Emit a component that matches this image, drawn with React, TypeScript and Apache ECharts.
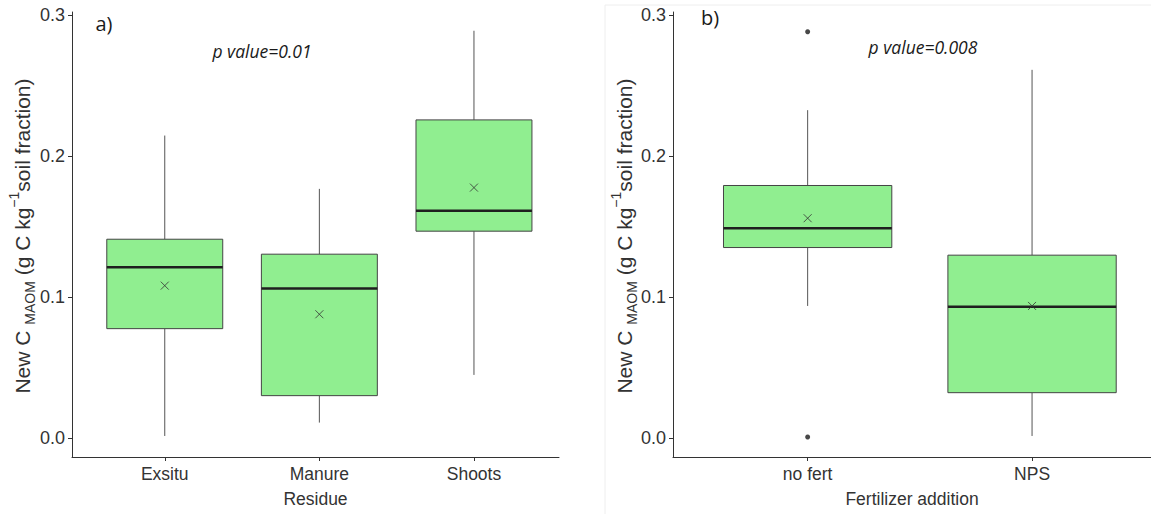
import React, { useEffect, useRef } from "react";
import * as echarts from "echarts";

// ---- Panel a) Residue ----
const leftCats = ["Exsitu", "Manure", "Shoots"];
const leftMin = [0.0014, 0.0109, 0.0447];
const leftQ1 = [0.0775, 0.03, 0.1466];
const leftMed = [0.1211, 0.1059, 0.161];
const leftQ3 = [0.1409, 0.1303, 0.2255];
const leftMax = [0.2144, 0.1766, 0.2887];
const leftMean = [0.108, 0.0877, 0.1775];

// ---- Panel b) Fertilizer addition ----
const rightCats = ["no fert", "NPS"];
const rightMin = [0.0936, 0.0014];
const rightQ1 = [0.135, 0.0321];
const rightMed = [0.1487, 0.0931];
const rightQ3 = [0.179, 0.1296];
const rightMax = [0.2324, 0.261];
const rightMean = [0.1558, 0.0936];
const rightOutlierCat = [1, 1];
const rightOutlierVal = [0.288, 0.0007];

const yTicks = [0, 0.1, 0.2, 0.3];

const FONT = "'Liberation Sans', Arial, sans-serif";
const FONT2 = "'Open Sans', 'Noto Sans', sans-serif";

function boxData(mins: number[], q1: number[], med: number[], q3: number[], max: number[]) {
  return mins.map((_, i) => [i + 1, mins[i], q1[i], med[i], q3[i], max[i]]);
}

function renderBox(params: any, api: any) {
  const x = api.value(0);
  const pMin = api.coord([x, api.value(1)]);
  const pQ1 = api.coord([x, api.value(2)]);
  const pMed = api.coord([x, api.value(3)]);
  const pQ3 = api.coord([x, api.value(4)]);
  const pMax = api.coord([x, api.value(5)]);
  const bw = api.size([1, 0])[0] * 0.75;
  const cx = pMed[0];
  return {
    type: "group",
    children: [
      {
        type: "line",
        shape: { x1: cx, y1: pMin[1], x2: cx, y2: pQ1[1] },
        style: { stroke: "#555", lineWidth: 1 },
      },
      {
        type: "line",
        shape: { x1: cx, y1: pQ3[1], x2: cx, y2: pMax[1] },
        style: { stroke: "#555", lineWidth: 1 },
      },
      {
        type: "rect",
        shape: { x: cx - bw / 2, y: pQ3[1], width: bw, height: pQ1[1] - pQ3[1] },
        style: { fill: "#90EE90", stroke: "#444", lineWidth: 1 },
      },
      {
        type: "line",
        shape: { x1: cx - bw / 2, y1: pMed[1], x2: cx + bw / 2, y2: pMed[1] },
        style: { stroke: "#1f1f1f", lineWidth: 2.5 },
      },
    ],
  };
}

const crossSymbol = "path://M0,0L10,10M10,0L0,10";

function yAxisCfg(gridIndex: number) {
  return {
    type: "value",
    gridIndex,
    min: -0.0135,
    max: 0.302,
    axisLine: { show: true, onZero: false, lineStyle: { color: "#333", width: 1 } },
    axisTick: { show: true, length: 4, customValues: yTicks, lineStyle: { color: "#333" } },
    axisLabel: {
      customValues: yTicks,
      formatter: (v: number) => v.toFixed(1),
      color: "#333",
      fontSize: 18,
      fontFamily: FONT,
      margin: 7,
    },
    splitLine: { show: false },
  };
}

function xAxisCfg(gridIndex: number, cats: string[], min: number, max: number, name: string) {
  const vals = cats.map((_, i) => i + 1);
  return {
    type: "value",
    gridIndex,
    min,
    max,
    name,
    nameLocation: "middle",
    nameGap: 33,
    nameTextStyle: { color: "#333", fontSize: 17.5, fontFamily: FONT },
    axisLine: { show: true, onZero: false, lineStyle: { color: "#333", width: 1 } },
    axisTick: { show: true, length: 4, customValues: vals, lineStyle: { color: "#333" } },
    axisLabel: {
      customValues: vals,
      formatter: (v: number) => cats[Math.round(v) - 1] ?? "",
      color: "#333",
      fontSize: 17.5,
      fontFamily: FONT,
      margin: 8,
    },
    splitLine: { show: false },
  };
}

function yTitle(x: number, y: number) {
  return {
    type: "text",
    x,
    y,
    rotation: Math.PI / 2,
    style: {
      text: "{n|New C }{s|MAOM}{n| (g C kg}{p|−1}{n|soil fraction)}",
      align: "center",
      verticalAlign: "middle",
      fill: "#333",
      rich: {
        n: { fontSize: 21, fontFamily: FONT, fill: "#333", lineHeight: 30, verticalAlign: "middle" },
        s: { fontSize: 14, fontFamily: FONT, fill: "#333", lineHeight: 30, verticalAlign: "bottom" },
        p: { fontSize: 14, fontFamily: FONT, fill: "#333", lineHeight: 30, verticalAlign: "top" },
      },
    },
  };
}

export default function App() {
  const ref = useRef<HTMLDivElement>(null);
  useEffect(() => {
    if (!ref.current) return;
    const chart = echarts.init(ref.current, null, { renderer: "svg" });
    chart.setOption({
      animation: false,
      backgroundColor: "#fff",
      grid: [
        { left: 72, top: 12, width: 487, height: 445 },
        { left: 673, top: 12, right: 0, height: 445 },
      ],
      xAxis: [
        xAxisCfg(0, leftCats, 0.4, 3.55, "Residue"),
        xAxisCfg(1, rightCats, 0.4, 2.53, "Fertilizer addition"),
      ],
      yAxis: [yAxisCfg(0), yAxisCfg(1)],
      series: [
        {
          type: "custom",
          xAxisIndex: 0,
          yAxisIndex: 0,
          renderItem: renderBox,
          encode: { x: 0, y: [1, 2, 3, 4, 5] },
          data: boxData(leftMin, leftQ1, leftMed, leftQ3, leftMax),
          z: 2,
        },
        {
          type: "custom",
          xAxisIndex: 1,
          yAxisIndex: 1,
          renderItem: renderBox,
          encode: { x: 0, y: [1, 2, 3, 4, 5] },
          data: boxData(rightMin, rightQ1, rightMed, rightQ3, rightMax),
          z: 2,
        },
        {
          type: "scatter",
          xAxisIndex: 0,
          yAxisIndex: 0,
          symbol: crossSymbol,
          symbolSize: 8,
          itemStyle: { color: "transparent", borderColor: "#333", borderWidth: 1 },
          data: leftMean.map((v, i) => [i + 1, v]),
          z: 5,
        },
        {
          type: "scatter",
          xAxisIndex: 1,
          yAxisIndex: 1,
          symbol: crossSymbol,
          symbolSize: 8,
          itemStyle: { color: "transparent", borderColor: "#333", borderWidth: 1 },
          data: rightMean.map((v, i) => [i + 1, v]),
          z: 5,
        },
        {
          type: "scatter",
          xAxisIndex: 1,
          yAxisIndex: 1,
          symbol: "circle",
          symbolSize: 5,
          itemStyle: { color: "#1a1a1a" },
          data: rightOutlierVal.map((v, i) => [rightOutlierCat[i], v]),
          z: 5,
        },
      ],
      graphic: [
        {
          type: "line",
          shape: { x1: 605, y1: 5, x2: 605, y2: 514 },
          style: { stroke: "#eeeeee", lineWidth: 1 },
          silent: true,
        },
        {
          type: "line",
          shape: { x1: 605, y1: 5, x2: 1151, y2: 5 },
          style: { stroke: "#eeeeee", lineWidth: 1 },
          silent: true,
        },
        {
          type: "text",
          x: 104,
          y: 23,
          style: { text: "a)", fontSize: 20, fontFamily: FONT2, fill: "#1a1a1a", align: "center", verticalAlign: "middle" },
        },
        {
          type: "text",
          x: 710,
          y: 17,
          style: { text: "b)", fontSize: 20, fontFamily: FONT2, fill: "#1a1a1a", align: "center", verticalAlign: "middle" },
        },
        {
          type: "text",
          x: 262,
          y: 51,
          style: {
            text: "p value=0.01",
            fontSize: 17.5,
            fontStyle: "italic",
            fontFamily: FONT2,
            fill: "#1a1a1a",
            align: "center",
            verticalAlign: "middle",
          },
        },
        {
          type: "text",
          x: 923,
          y: 47,
          style: {
            text: "p value=0.008",
            fontSize: 17.5,
            fontStyle: "italic",
            fontFamily: FONT2,
            fill: "#1a1a1a",
            align: "center",
            verticalAlign: "middle",
          },
        },
        yTitle(22, 236),
        yTitle(624, 236),
      ],
    });
    return () => chart.dispose();
  }, []);
  return <div ref={ref} style={{ width: 1151, height: 514, position: "absolute", left: 0, top: 0 }} />;
}
